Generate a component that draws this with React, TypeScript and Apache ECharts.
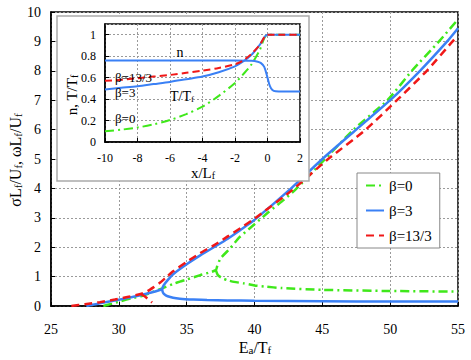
import React, { useEffect, useRef } from "react";
import * as echarts from "echarts";

// ---- main plot data (Ea/Tf vs sigma Lf/Uf, omega Lf/Uf); null = break ----
const eaBeta0 = [28.86, 29.5, 30.1, 31.0, 31.6, 32.3, 33.2, 34.0, 34.5, 35.0, 36.0, 36.6, 37.15, 37.25, 37.5, 38.2, 38.9, 40, 41, 42, 43, 45, 47.3, 49.8, 51.6, 53.6, 55,
  null, 37.15, 37.3, 37.6, 38.0, 38.5, 39.2, 40, 40.8, 42, 45, 50, 55];
const sigBeta0 = [0, 0.08, 0.16, 0.27, 0.33, 0.44, 0.6, 0.75, 0.83, 0.9, 1.05, 1.13, 1.22, 1.35, 1.62, 1.96, 2.34, 2.78, 3.18, 3.55, 3.95, 4.9, 6.0, 7.0, 8.0, 9.0, 9.75,
  null, 1.22, 1.05, 0.95, 0.88, 0.82, 0.77, 0.7, 0.66, 0.61, 0.55, 0.51, 0.49];

const eaBeta3 = [27.6, 28.5, 29.5, 30.5, 31.5, 32.4, 33.2,
  null, 55, 54.2, 52.2, 50, 47.5, 45, 42.7, 40, 39, 38, 37, 36, 35, 34, 33.6, 33.3, 33.2, 33.25, 33.4, 33.6, 34, 34.5, 35.5, 36.5, 38, 40, 45, 50, 55];
const sigBeta3 = [0, 0.08, 0.17, 0.26, 0.36, 0.46, 0.57,
  null, 9.45, 9.0, 8.0, 7.0, 6.0, 5.0, 4.0, 2.93, 2.6, 2.28, 2.0, 1.72, 1.42, 1.08, 0.88, 0.7, 0.57, 0.46, 0.38, 0.33, 0.28, 0.25, 0.22, 0.2, 0.19, 0.18, 0.16, 0.15, 0.15];

const eaBeta13 = [26.5, 27.5, 28.6, 29.7, 30.8, 31.6, 32.1, 32.6, 33.0, 33.5, 34, 35, 36, 37, 38, 39, 40, 42.8, 45.3, 48.2, 50.5, 52.7, 54.6, 55,
  null, 31.6, 31.9, 32.2, 32.45];
const sigBeta13 = [0, 0.06, 0.13, 0.22, 0.32, 0.41, 0.5, 0.65, 0.78, 0.98, 1.18, 1.5, 1.8, 2.06, 2.36, 2.66, 2.97, 3.95, 4.95, 6.0, 7.0, 8.0, 9.0, 9.18,
  null, 0.41, 0.33, 0.22, 0.12];

// ---- inset data (x/Lf vs n, T/Tf) ----
const insetX = [-10, -9, -8, -7, -6, -5, -4, -3, -2, -1.5, -1, -0.5, 0, 0.5, 1, 2];
const tempBeta0 = [0.10, 0.115, 0.135, 0.165, 0.205, 0.26, 0.33, 0.43, 0.55, 0.63, 0.72, 0.85, 1.0, 1.0, 1.0, 1.0];
const tempBeta3 = [0.49, 0.505, 0.52, 0.54, 0.56, 0.585, 0.61, 0.65, 0.705, 0.75, 0.81, 0.9, 1.0, 1.0, 1.0, 1.0];
const tempBeta13 = [0.57, 0.58, 0.595, 0.61, 0.625, 0.645, 0.665, 0.69, 0.725, 0.76, 0.82, 0.9, 1.0, 1.0, 1.0, 1.0];
const nX = [-10, -2, -1, -0.6, -0.4, -0.2, 0, 0.15, 0.3, 0.5, 1, 2];
const nBeta3 = [0.76, 0.76, 0.757, 0.748, 0.735, 0.7, 0.6, 0.52, 0.485, 0.473, 0.47, 0.47];

const legendNames = ["β=0", "β=3", "β=13/3"];

const FONT = "Liberation Serif";
const GREEN = "#3fe81a";
const BLUE = "#3a80f5";
const RED = "#f01818";

function pairs(xs: (number | null)[], ys: (number | null)[]) {
  return xs.map((x, i) => (x === null || ys[i] === null ? ["-", "-"] : [x, ys[i]]));
}

function subRich(size: number, subSize: number) {
  return {
    m: { fontSize: size, lineHeight: size, verticalAlign: "top", fontFamily: FONT, fill: "#000" },
    s: { fontSize: subSize, lineHeight: subSize, verticalAlign: "bottom", padding: [Math.round(size * 0.45), 0, 0, 0], fontFamily: FONT, fill: "#000" },
  };
}

export default function App() {
  const ref = useRef<HTMLDivElement>(null);
  useEffect(() => {
    if (!ref.current) return;
    const chart = echarts.init(ref.current, undefined, { renderer: "svg" });
    const gridDots = { show: true, lineStyle: { color: "#9a9a9a", type: [2, 2], width: 1 } };
    const dashDot = [9, 4, 2, 4];
    const axisLine = { show: true, onZero: false, lineStyle: { color: "#000", width: 1.5 } };
    const axisTick = { show: true, inside: true, length: 4, lineStyle: { color: "#000" } };
    const option: any = {
      animation: false,
      backgroundColor: "#fff",
      textStyle: { fontFamily: FONT },
      grid: [
        { left: 51, top: 12, width: 407, height: 294, show: true, borderColor: "#000", borderWidth: 1.5, backgroundColor: "transparent", z: 0 },
        { left: 105, top: 24, width: 195, height: 118, show: true, borderColor: "#000", borderWidth: 1.5, backgroundColor: "#fff", z: 6 },
      ],
      xAxis: [
        {
          type: "value", gridIndex: 0, min: 25, max: 55, interval: 5, z: 0, axisLine, axisTick,
          axisLabel: { color: "#000", fontSize: 14, fontFamily: FONT, margin: 16 },
          splitLine: gridDots,
        },
        {
          type: "value", gridIndex: 1, min: -10, max: 2, interval: 2, z: 7, axisLine, axisTick,
          axisLabel: { color: "#000", fontSize: 12, fontFamily: FONT, margin: 10 },
          splitLine: gridDots,
        },
      ],
      yAxis: [
        {
          type: "value", gridIndex: 0, min: 0, max: 10, interval: 1, z: 0, axisLine, axisTick,
          axisLabel: { color: "#000", fontSize: 14, fontFamily: FONT, margin: 10 },
          splitLine: gridDots,
        },
        {
          type: "value", gridIndex: 1, min: 0, max: 1.1, interval: 0.2, z: 7, axisLine, axisTick,
          axisLabel: { color: "#000", fontSize: 12, fontFamily: FONT, margin: 9, showMaxLabel: false },
          splitLine: gridDots,
        },
      ],
      legend: {
        data: legendNames,
        orient: "vertical",
        left: 357,
        top: 173,
        padding: [5, 8, 5, 8],
        itemGap: 10,
        itemWidth: 18,
        itemHeight: 12,
        borderColor: "#888",
        borderWidth: 1,
        backgroundColor: "#fff",
        itemStyle: { opacity: 0 },
        textStyle: { fontFamily: FONT, fontSize: 15, color: "#000" },
      },
      graphic: [
        { type: "rect", z: 5, shape: { x: 57, y: 16, width: 252, height: 165 }, style: { fill: "#fff", stroke: "#aaa", lineWidth: 1.5 } },
        { type: "text", z: 20, x: 255, y: 347, style: { text: "{m|E}{s|a}{m|/T}{s|f}", rich: subRich(16, 11), align: "center", verticalAlign: "middle" } },
        { type: "text", z: 20, x: 15, y: 160, rotation: Math.PI / 2, style: { text: "{m|σL}{s|f}{m|/U}{s|f}{m|, ωL}{s|f}{m|/U}{s|f}", rich: subRich(16, 11), align: "center", verticalAlign: "middle" } },
        { type: "text", z: 20, x: 203, y: 173, style: { text: "{m|x/L}{s|f}", rich: subRich(15, 10), align: "center", verticalAlign: "middle" } },
        { type: "text", z: 20, x: 72, y: 95, rotation: Math.PI / 2, style: { text: "{m|n, T/T}{s|f}", rich: subRich(15, 10), align: "center", verticalAlign: "middle" } },
        { type: "text", z: 20, x: 180, y: 52, style: { text: "n", font: `14px ${FONT}`, fill: "#000", align: "center", verticalAlign: "middle" } },
        { type: "text", z: 20, x: 115, y: 77, style: { text: "β=13/3", font: `13px ${FONT}`, fill: "#000", align: "left", verticalAlign: "middle" } },
        { type: "text", z: 20, x: 115, y: 92, style: { text: "β=3", font: `13px ${FONT}`, fill: "#000", align: "left", verticalAlign: "middle" } },
        { type: "text", z: 20, x: 170, y: 96, style: { text: "{m|T/T}{s|f}", rich: subRich(14, 9), align: "left", verticalAlign: "middle" } },
        { type: "text", z: 20, x: 115, y: 118, style: { text: "β=0", font: `13px ${FONT}`, fill: "#000", align: "left", verticalAlign: "middle" } },
      ],
      series: [
        {
          name: "β=0", type: "line", xAxisIndex: 0, yAxisIndex: 0, data: pairs(eaBeta0, sigBeta0), showSymbol: false, symbol: "none", smooth: 0.2, connectNulls: false,
          lineStyle: { color: GREEN, width: 2.5, type: dashDot }, itemStyle: { color: GREEN }, z: 3,
        },
        {
          name: "β=3", type: "line", xAxisIndex: 0, yAxisIndex: 0, data: pairs(eaBeta3, sigBeta3), showSymbol: false, symbol: "none", smooth: 0.2, connectNulls: false,
          lineStyle: { color: BLUE, width: 2.5, type: "solid" }, itemStyle: { color: BLUE }, z: 3,
        },
        {
          name: "β=13/3", type: "line", xAxisIndex: 0, yAxisIndex: 0, data: pairs(eaBeta13, sigBeta13), showSymbol: false, symbol: "none", smooth: 0.2, connectNulls: false,
          lineStyle: { color: RED, width: 2.5, type: [8, 5] }, itemStyle: { color: RED }, z: 3,
        },
        {
          name: "inset T β=0", type: "line", xAxisIndex: 1, yAxisIndex: 1, data: pairs(insetX, tempBeta0), showSymbol: false, symbol: "none", smooth: 0.3,
          lineStyle: { color: GREEN, width: 2, type: dashDot }, z: 8,
        },
        {
          name: "inset n β=3", type: "line", xAxisIndex: 1, yAxisIndex: 1, data: pairs(nX, nBeta3), showSymbol: false, symbol: "none", smooth: 0.3,
          lineStyle: { color: BLUE, width: 2, type: "solid" }, z: 8,
        },
        {
          name: "inset T β=3", type: "line", xAxisIndex: 1, yAxisIndex: 1, data: pairs(insetX, tempBeta3), showSymbol: false, symbol: "none", smooth: 0.3,
          lineStyle: { color: BLUE, width: 2, type: "solid" }, z: 8,
        },
        {
          name: "inset T β=13/3", type: "line", xAxisIndex: 1, yAxisIndex: 1, data: pairs(insetX, tempBeta13), showSymbol: false, symbol: "none", smooth: 0.3,
          lineStyle: { color: RED, width: 2, type: [7, 4] }, z: 8,
        },
      ],
    };
    chart.setOption(option);
    return () => chart.dispose();
  }, []);
  return <div ref={ref} style={{ width: 471, height: 360, position: "absolute", left: 0, top: 0 }} />;
}
